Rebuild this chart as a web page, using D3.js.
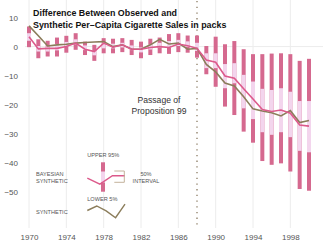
<!DOCTYPE html>
<html>
<head>
<meta charset="utf-8">
<script src="https://cdn.jsdelivr.net/npm/d3@7"></script>
<style>
  body { margin: 0; background: #fff; }
  svg { font-family: "Liberation Sans", Arial, Helvetica, sans-serif; }
</style>
</head>
<body>
<script>
// yearly values, difference observed - synthetic (packs per capita)
const years = [1970, 1971, 1972, 1973, 1974, 1975, 1976, 1977, 1978, 1979, 1980,
  1981, 1982, 1983, 1984, 1985, 1986, 1987, 1988, 1989, 1990,
  1991, 1992, 1993, 1994, 1995, 1996, 1997, 1998, 1999, 2000];
const synthetic = [7.1, 3.7, 0.2, 0.6, 0.8, 1.2, 1.4, 1.6, 1.7, 0, 0.6,
  -0.9, -0.9, 0.6, 2.5, 0.9, 1.2, -0.9, -0.6, -6.1, -8.7,
  -12.5, -13.5, -17.2, -21.4, -22.1, -22.7, -23.8, -22.0, -26.1, -25.4];
const bayesian = [3.4, -0.8, -0.6, -0.6, 0, 1.2, -0.9, -1.7, 1.2, -0.2, 0.6,
  -0.9, -0.9, -0.3, 0, -0.3, 0.9, 0.3, -0.6, -4.6, -5.4,
  -10.1, -10.9, -14.5, -18.0, -21.6, -22.3, -21.8, -22.9, -26.9, -27.3];
const upper95 = [6.9, 2.5, 2.0, 3.1, 3.7, 4.6, 1.7, 0.6, 2.9, 2.7, 2.9,
  2.3, 1.7, 2.7, 3.1, 4.3, 4.6, 3.8, 3.8, 0.2, 3.4,
  0.8, 1.9, -0.9, -2.6, -2.6, -2.4, -2.3, -2.6, -4.9, -4.2];
const upper75 = [4.6, 0.2, 0, 0.9, 1.6, 2.5, 0.4, -1.5, 1.3, 1.0, 1.3,
  0.4, -0.3, 0.8, 1.3, 1.9, 2.3, 1.8, 1.3, -2.3, -2.3,
  -6.0, -5.7, -9.7, -12.0, -14.5, -14.9, -14.3, -15.5, -18.7, -18.7];
const lower25 = [2.0, -1.7, -1.7, -1.3, -0.1, 0.8, -1.2, -3.0, -0.6, -0.6, -0.3,
  -1.2, -2.0, -1.0, -0.4, -0.3, 0.2, -0.1, -1.5, -7.4, -7.4,
  -14.3, -12.6, -21.2, -24.9, -29.4, -30.3, -29.4, -31.1, -35.8, -36.3];
const lower5 = [-0.2, -4.0, -3.4, -3.4, -2.1, -1.1, -2.9, -4.9, -2.3, -2.3, -1.9,
  -2.9, -4.0, -2.9, -2.3, -2.5, -1.9, -2.1, -3.8, -9.5, -13.8,
  -20.6, -23.5, -29.2, -33.0, -39.3, -40.6, -40.1, -42.9, -48.9, -49.5];
const xTicks = [1970, 1974, 1978, 1982, 1986, 1990, 1994, 1998];
const yTicks = [10, 0, -10, -20, -30, -40, -50];
const passageYear = 1988;

// legend sample shapes (relative units)
const legendBayes = [0.4, 1.4, 0, 0];
const legendSynth = [0.5, 0, 0.55, 1.3, -0.2];

const W = 331, H = 250;
const darkPink = "#d5698f", lightPink = "#f3d5ed", pinkLine = "#dc5a8b", tan = "#8b7d5b";

const svg = d3.select("body").append("svg")
  .attr("width", W).attr("height", H);

const x = d3.scaleLinear().domain([1970, 2000]).range([29, 309]);
const y = d3.scaleLinear().domain([16, -62.3]).range([0, 228]);

// grid
svg.append("g").selectAll("line").data(xTicks).enter().append("line")
  .attr("x1", d => x(d)).attr("x2", d => x(d))
  .attr("y1", 0).attr("y2", 228)
  .attr("stroke", "#ececec").attr("stroke-width", 1);
svg.append("line")
  .attr("x1", 25).attr("x2", 323)
  .attr("y1", y(0)).attr("y2", y(0))
  .attr("stroke", "#ececec");

// axes
const xAxis = d3.axisBottom(x).tickValues(xTicks).tickFormat(d => d).tickSize(0).tickPadding(0);
const gx = svg.append("g").attr("transform", "translate(0,234)").call(xAxis);
gx.select(".domain").remove();
gx.selectAll("text").attr("fill", "#555").style("font-size", "8px");

const yAxis = d3.axisLeft(y).tickValues(yTicks).tickFormat(d => d < 0 ? "\u2212" + Math.abs(d) : d)
  .tickSize(0).tickPadding(0);
const gy = svg.append("g").attr("transform", "translate(18,0)").call(yAxis);
gy.select(".domain").remove();
gy.selectAll("text").attr("fill", "#555").style("font-size", "8px");

// passage of prop 99
svg.append("line")
  .attr("x1", x(passageYear)).attr("x2", x(passageYear))
  .attr("y1", 1).attr("y2", 228)
  .attr("stroke", "#8a7a62").attr("stroke-width", 1.3)
  .attr("stroke-dasharray", "1.3,4.4");

// interval bars
const bw = 4;
svg.append("g").selectAll("rect").data(years).enter().append("rect")
  .attr("x", d => x(d) - bw / 2).attr("width", bw)
  .attr("y", (d, i) => y(upper95[i]))
  .attr("height", (d, i) => y(lower5[i]) - y(upper95[i]))
  .attr("fill", darkPink);
svg.append("g").selectAll("rect").data(years).enter().append("rect")
  .attr("x", d => x(d) - bw / 2).attr("width", bw)
  .attr("y", (d, i) => y(upper75[i]))
  .attr("height", (d, i) => y(lower25[i]) - y(upper75[i]))
  .attr("fill", lightPink);

// lines
const line = vals => d3.line().x((d, i) => x(years[i])).y((d, i) => y(vals[i]))(vals);
svg.append("path").attr("d", line(synthetic))
  .attr("fill", "none").attr("stroke", tan).attr("stroke-width", 1.6);
svg.append("path").attr("d", line(bayesian))
  .attr("fill", "none").attr("stroke", pinkLine).attr("stroke-width", 1.6);

// title
const title = svg.append("text").attr("x", 33).attr("font-weight", "bold")
  .style("font-size", "8.9px").attr("fill", "#111");
title.append("tspan").attr("x", 33).attr("y", 15.5).text("Difference Between Observed and");
title.append("tspan").attr("x", 33).attr("y", 27.5).text("Synthetic Per\u2013Capita Cigarette Sales in packs");

// annotation
const ann = svg.append("text").attr("text-anchor", "middle").style("font-size", "8.6px").attr("fill", "#333");
ann.append("tspan").attr("x", 159).attr("y", 102.5).text("Passage of");
ann.append("tspan").attr("x", 159).attr("y", 114).text("Proposition 99");

// legend
const lg = svg.append("g");
const lx = d3.scaleLinear().domain([0, 3]).range([87.3, 125]);
const ly = d3.scaleLinear().domain([0, 1]).range([175.7, 181.7]);
lg.append("rect").attr("x", 101).attr("width", bw).attr("y", 162.3).attr("height", 29.4).attr("fill", darkPink);
lg.append("rect").attr("x", 101).attr("width", bw).attr("y", 171.5).attr("height", 11).attr("fill", lightPink);
lg.append("path")
  .attr("d", d3.line().x((d, i) => lx(i)).y(d => ly(d))(legendBayes))
  .attr("fill", "none").attr("stroke", pinkLine).attr("stroke-width", 1.4);
lg.append("path").attr("d", "M114.3,171H124.3V182.3H114.3")
  .attr("fill", "none").attr("stroke", "#c4b29c").attr("stroke-width", 1);
const lx2 = d3.scaleLinear().domain([0, 4]).range([87.3, 125]);
const ly2 = d3.scaleLinear().domain([0, 1]).range([206, 215]);
lg.append("path")
  .attr("d", d3.line().x((d, i) => lx2(i)).y(d => ly2(d))(legendSynth))
  .attr("fill", "none").attr("stroke", tan).attr("stroke-width", 1.4);

const lt = (txt, xx, yy, anchor) => lg.append("text").attr("x", xx).attr("y", yy)
  .attr("text-anchor", anchor).style("font-size", "5.6px").attr("fill", "#555").text(txt);
lt("UPPER 95%", 103.3, 157, "middle");
lt("BAYESIAN", 36, 176, "start");
lt("SYNTHETIC", 36, 182.7, "start");
lt("50%", 146, 176, "middle");
lt("INTERVAL", 146, 182.7, "middle");
lt("LOWER 5%", 102.3, 201, "middle");
lt("SYNTHETIC", 36, 213.7, "start");
</script>
</body>
</html>
